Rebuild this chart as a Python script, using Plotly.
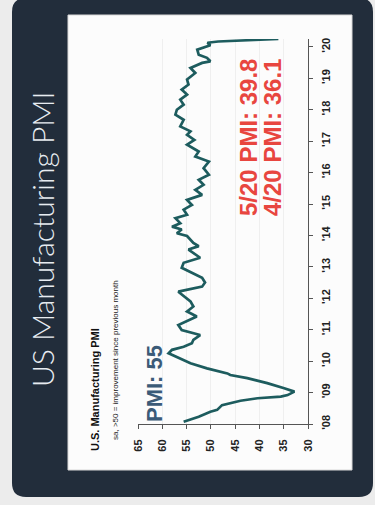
import plotly.graph_objects as go

# ---- data ----
years = [2008.07, 2008.23, 2008.39, 2008.45, 2008.60, 2008.74, 2008.82, 2008.87, 2008.92,
         2009.03, 2009.14, 2009.30, 2009.46, 2009.56, 2009.61, 2009.77, 2009.93, 2009.98,
         2010.20, 2010.25, 2010.36, 2010.46, 2010.57, 2010.68, 2010.83, 2010.99,
         2011.15, 2011.42, 2011.58, 2011.74, 2011.90,
         2012.21, 2012.37, 2012.50, 2012.65, 2012.75, 2012.97,
         2013.13, 2013.29, 2013.55, 2013.66, 2013.76, 2013.98,
         2014.07, 2014.19, 2014.28, 2014.39, 2014.55, 2014.66, 2014.82, 2014.97,
         2015.13, 2015.29, 2015.45, 2015.61, 2015.77, 2015.93,
         2016.14, 2016.35, 2016.51, 2016.67, 2016.89,
         2017.04, 2017.20, 2017.31, 2017.47, 2017.68, 2017.84,
         2018.00, 2018.16, 2018.32, 2018.48, 2018.64, 2018.80, 2018.96,
         2019.17, 2019.33, 2019.49, 2019.54, 2019.65, 2019.75, 2019.91, 2019.96,
         2020.05, 2020.13, 2020.17, 2020.25]
pmi = [55.6, 52.5, 50.1, 48.7, 47.7, 43.9, 40.4, 35.6, 34.2,
       32.8, 34.9, 38.4, 42.5, 46.0, 46.6, 50.8, 54.2, 54.9,
       57.7, 58.7, 58.0, 55.6, 53.9, 53.6, 52.2, 56.0,
       56.7, 52.9, 54.9, 53.6, 54.2,
       56.7, 51.8, 51.2, 51.8, 53.2, 56.0,
       55.6, 52.2, 54.6, 52.5, 53.6, 54.9,
       57.0, 56.0, 58.0, 56.3, 57.3, 54.9, 55.6, 53.9,
       54.9, 51.8, 53.2, 51.5, 52.5, 50.4,
       51.5, 50.4, 53.2, 52.5, 54.9,
       53.4, 54.9, 54.2, 56.3, 55.6, 57.3,
       57.0, 55.6, 56.3, 54.9, 56.0, 54.6, 54.9,
       53.2, 54.2, 51.8, 50.1, 50.8, 52.5, 52.8, 51.8,
       50.1, 50.7, 48.5, 36.1]

value_ticks = [30, 35, 40, 45, 50, 55, 60, 65]
year_ticks = list(range(2008, 2021))
year_labels = ["'08", "'09", "'10", "'11", "'12", "'13", "'14", "'15", "'16", "'17", "'18", "'19", "'20"]

slide_title = "US Manufacturing PMI"
chart_title = "U.S. Manufacturing PMI"
chart_sub = "sa, >50 = improvement since previous month"
note_left = "PMI: 55"
note_may = "5/20 PMI: 39.8"
note_apr = "4/20 PMI: 36.1"

# ---- layout geometry (pixels) ----
W, H = 375, 505
ML, MR, MT, MB = 138, 67, 39, 81
L, R, T, B = ML, W - MR, MT, H - MB


def px(x):
    return (x - L) / (R - L)


def py(y):
    return (B - y) / (B - T)


def rrect(x0, y0, x1, y1, r):
    pts = [
        ("M", [(x0 + r, y0)]), ("L", [(x1 - r, y0)]), ("Q", [(x1, y0), (x1, y0 + r)]),
        ("L", [(x1, y1 - r)]), ("Q", [(x1, y1), (x1 - r, y1)]),
        ("L", [(x0 + r, y1)]), ("Q", [(x0, y1), (x0, y1 - r)]),
        ("L", [(x0, y0 + r)]), ("Q", [(x0, y0), (x0 + r, y0)]),
    ]
    s = ""
    for cmd, ps in pts:
        s += cmd + " " + " ".join(f"{px(a):.5f},{py(b):.5f}" for a, b in ps) + " "
    return s + "Z"


fig = go.Figure()
fig.add_trace(go.Scatter(
    x=pmi, y=years, mode="lines",
    line=dict(color="#1d5c5e", width=2.7),
    hoverinfo="skip", showlegend=False,
))

shapes = [
    dict(type="path", xref="paper", yref="paper", layer="below",
         path=rrect(12, -2, 373, 497, 14), fillcolor="#222d3b", line=dict(width=0)),
    dict(type="rect", xref="paper", yref="paper", layer="below",
         x0=px(68), x1=px(352), y0=py(470), y1=py(15),
         fillcolor="#fcfcfc", line=dict(color="#d8d8d8", width=1)),
]

ann = [
    dict(text=slide_title, x=px(42), y=py(240),
         font=dict(size=30, color="#e8ecf1", family="Lato", weight=300)),
    dict(text=chart_title, x=px(95), y=py(390),
         font=dict(size=11, color="#111111", family="Liberation Sans", weight="bold")),
    dict(text=chart_sub, x=px(115), y=py(360),
         font=dict(size=8, color="#222222", family="Liberation Sans")),
    dict(text=note_left, x=px(154), y=py(384),
         font=dict(size=22, color="#3b5b78", family="Liberation Sans", weight="bold")),
    dict(text=note_may, x=px(248), y=py(138),
         font=dict(size=24, color="#e8463f", family="Liberation Sans", weight="bold")),
    dict(text=note_apr, x=px(272), y=py(138),
         font=dict(size=24, color="#e8463f", family="Liberation Sans", weight="bold")),
]
for a in ann:
    a.update(xref="paper", yref="paper", textangle=-90, showarrow=False,
             xanchor="center", yanchor="middle")

tickfont = dict(size=11, color="#222222", family="Liberation Sans", weight="bold")

fig.update_layout(
    width=W, height=H,
    margin=dict(l=ML, r=MR, t=MT, b=MB, pad=0),
    paper_bgcolor="#ececec",
    plot_bgcolor="rgba(0,0,0,0)",
    shapes=shapes,
    annotations=ann,
    xaxis=dict(range=[65, 30], tickvals=value_ticks, tickangle=-90,
               ticks="outside", ticklen=4, tickcolor="#555555",
               showline=True, linecolor="#555555", linewidth=1,
               showgrid=True, gridcolor="#efefef", zeroline=False,
               tickfont=tickfont, ticklabelstandoff=6, fixedrange=True),
    yaxis=dict(range=[2008, 2020.25], tickvals=year_ticks, ticktext=year_labels,
               side="right", tickangle=-90, ticks="outside", ticklen=4,
               tickcolor="#555555", showline=True, linecolor="#555555", linewidth=1,
               showgrid=False, zeroline=False, tickfont=tickfont,
               ticklabelstandoff=4, fixedrange=True),
)

fig.write_html("out.html", config={"displayModeBar": False},
               post_script="document.body.style.margin='0';document.body.style.overflow='hidden';")
